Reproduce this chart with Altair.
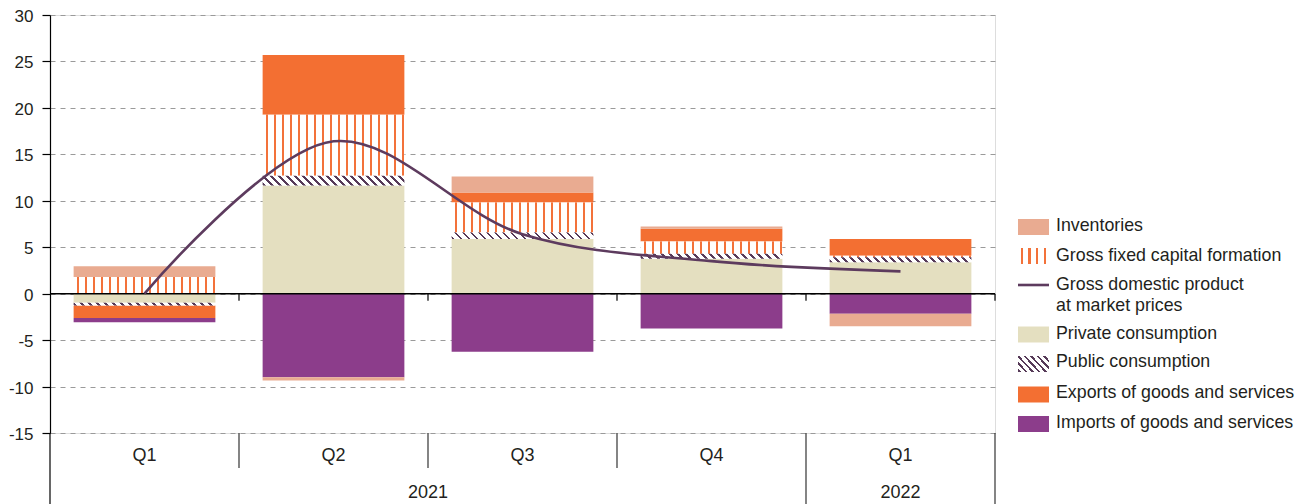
import altair as alt
import numpy as np
import pandas as pd

# ---------------- data ----------------
quarters = ["2021 Q1", "2021 Q2", "2021 Q3", "2021 Q4", "2022 Q1"]
quarter_labels = ["Q1", "Q2", "Q3", "Q4", "Q1"]
years = ["2021", "2022"]

private_consumption = [-0.97, 11.65, 5.88, 3.76, 3.37]
public_consumption = [-0.30, 1.04, 0.71, 0.54, 0.54]
gross_fixed_capital = [1.80, 6.56, 3.23, 1.32, 0.18]
exports = [-1.35, 6.45, 1.08, 1.36, 1.80]
imports = [-0.45, -9.00, -6.24, -3.76, -2.15]
inventories = [1.15, -0.35, 1.72, 0.25, -1.36]
gdp = [0.0, 16.4, 6.4, 3.5, 2.4]

PRIV = "Private consumption"
PUB = "Public consumption"
GFCF = "Gross fixed capital formation"
EXP = "Exports of goods and services"
IMP = "Imports of goods and services"
INV = "Inventories"
components = [PRIV, PUB, GFCF, EXP, IMP, INV]
series = [private_consumption, public_consumption, gross_fixed_capital, exports, imports, inventories]

rows = []
for order, (name, vals) in enumerate(zip(components, series)):
    for q, v in zip(quarters, vals):
        rows.append({"q": q, "comp": name, "value": v, "order": order})
df = pd.DataFrame(rows)
gdp_df = pd.DataFrame({"q": quarters, "gdp": gdp})
qlab_df = pd.DataFrame({"q": quarters, "label": quarter_labels})
one = pd.DataFrame({"k": [0]})

# ---------------- style / layout ----------------
W, H = 945, 418
BAND = W / len(quarters)
BAR_FRAC = 0.75
BAR_W = BAND * BAR_FRAC
Y_MIN, Y_MAX = -15, 30
PX = H / (Y_MAX - Y_MIN)
FONT = "Liberation Sans, Arial, sans-serif"
TXT = "#231f20"

C_PRIV = "#e4dfc0"
C_EXP = "#f36f32"
C_IMP = "#8c3d8b"
C_INV = "#e9ab91"
C_STRIPE = "#f3723a"
C_HATCH = "#563a58"
C_GDP = "#5d3b5e"


def gs(color, off):
    return alt.GradientStop(color=color, offset=round(float(off), 5))


def build_stops(centers, thick, span, color, bg="#ffffff"):
    stops = [gs(bg, 0)]
    last = 0.0
    for c in centers:
        a = max(0.0, (c - thick / 2) / span)
        b = min(1.0, (c + thick / 2) / span)
        if b <= 0 or a >= 1 or a < last:
            continue
        stops += [gs(bg, a), gs(color, a), gs(color, b), gs(bg, b)]
        last = b
    stops.append(gs(bg, 1))
    return stops


def vstripes(width, first, period, thick, color):
    centers = np.arange(first, width, period)
    return alt.LinearGradient(gradient="linear", x1=0, y1=0, x2=1, y2=0,
                              stops=build_stops(centers, thick, width, color))


def hatch(width, height, period, thick, color, phase=2.0):
    # lines x - y = c (top-left to bottom-right), in pixels
    k = height / width
    s = (1 + k) / (1 + k * k)
    centers = np.arange(-height + phase, width + period, period) + height
    return alt.LinearGradient(gradient="linear", x1=0, y1=1,
                              x2=round(s, 6), y2=round(1 - k * s, 6),
                              stops=build_stops(centers, thick, width + height, color))


x_scale = alt.Scale(domain=quarters, paddingInner=0, paddingOuter=0)
y_scale = alt.Scale(domain=[Y_MIN, Y_MAX], nice=False, zero=False)

y_axis = alt.Axis(values=list(range(Y_MIN, Y_MAX + 1, 5)), title=None, grid=True,
                  gridDash=[5, 5], gridColor="#9a9a9a", gridWidth=1,
                  domainColor="#000000", domainWidth=1.2, tickColor="#000000",
                  tickSize=8, tickWidth=1.2, labelFont=FONT, labelFontSize=17,
                  labelColor=TXT, labelPadding=9, labelOffset=1.5,
                  labelExpr="'' + datum.value")


def X(**kw):
    return alt.X("q:N", scale=x_scale, axis=None, **kw)


def Yf(field):
    return alt.Y(field, scale=y_scale, axis=y_axis)


def Yd(value):
    return alt.YDatum(value, scale=y_scale, axis=y_axis)


stacked = alt.Chart(df).transform_stack(
    stack="value", groupby=["q"], as_=["v0", "v1"],
    sort=[alt.SortField("order", order="ascending")])

plain = [PRIV, EXP, IMP, INV]
plain_bars = stacked.transform_filter(
    alt.FieldOneOfPredicate(field="comp", oneOf=plain)
).mark_bar(width=alt.RelativeBandSize(BAR_FRAC)).encode(
    x=X(),
    y=Yf("v0:Q"),
    y2="v1:Q",
    color=alt.Color("comp:N", scale=alt.Scale(domain=plain, range=[C_PRIV, C_EXP, C_IMP, C_INV]),
                    legend=None),
)

gfcf_bars = stacked.transform_filter(alt.datum.comp == GFCF).mark_bar(
    width=alt.RelativeBandSize(BAR_FRAC),
    fill=vstripes(BAR_W, 4.2, 8.0, 2.2, C_STRIPE),
).encode(x=X(), y=Yf("v0:Q"), y2="v1:Q")

hatch_layers = []
for q, v in zip(quarters, public_consumption):
    hpx = max(abs(v) * PX, 1.0)
    hatch_layers.append(
        stacked.transform_filter((alt.datum.comp == PUB) & (alt.datum.q == q)).mark_bar(
            width=alt.RelativeBandSize(BAR_FRAC),
            fill=hatch(BAR_W, hpx, 8.0, 2.6, C_HATCH),
        ).encode(x=X(), y=Yf("v0:Q"), y2="v1:Q")
    )

zero_rule = alt.Chart(one).mark_rule(color="#000000", strokeWidth=1.5).encode(y=Yd(0))

zero_ticks = alt.Chart(pd.DataFrame({"q": quarters[1:]})).mark_rule(
    color="#000000", strokeWidth=1.2).encode(
    x=X(bandPosition=0), y=Yd(0), y2=alt.Y2Datum(-0.75))
zero_tick_end = alt.Chart(pd.DataFrame({"q": quarters[-1:]})).mark_rule(
    color="#000000", strokeWidth=1.2).encode(
    x=X(bandPosition=1), y=Yd(0), y2=alt.Y2Datum(-0.75))

gdp_line = alt.Chart(gdp_df).mark_line(
    color=C_GDP, strokeWidth=2.6, interpolate="catmull-rom").encode(
    x=X(), y=Yf("gdp:Q"))

# bottom category axis drawn with the band scale
short_sep = alt.Chart(pd.DataFrame({"q": quarters[1:4]})).mark_rule(
    color="#333333", strokeWidth=1.2).encode(
    x=X(bandPosition=0), y=Yd(Y_MIN), y2=alt.value(H + 35))
long_sep = alt.Chart(pd.DataFrame({"q": quarters[4:]})).mark_rule(
    color="#333333", strokeWidth=1.2).encode(
    x=X(bandPosition=0), y=Yd(Y_MIN), y2=alt.value(H + 75))
long_sep_end = alt.Chart(pd.DataFrame({"q": quarters[4:]})).mark_rule(
    color="#333333", strokeWidth=1.2).encode(
    x=X(bandPosition=1), y=Yd(Y_MIN), y2=alt.value(H + 75))
axis_ext = alt.Chart(one).mark_rule(color="#000000", strokeWidth=1.2).encode(
    x=alt.value(0), y=alt.value(H), y2=alt.value(H + 75))

q_text = alt.Chart(qlab_df).mark_text(
    font=FONT, fontSize=18, color=TXT, baseline="middle", align="center").encode(
    x=X(), y=alt.value(H + 23), text="label:N")
y2021 = alt.Chart(pd.DataFrame({"q": [quarters[1]], "label": [years[0]]})).mark_text(
    font=FONT, fontSize=18, color=TXT, baseline="middle", align="center").encode(
    x=X(bandPosition=1), y=alt.value(H + 60), text="label:N")
y2022 = alt.Chart(pd.DataFrame({"q": [quarters[4]], "label": [years[1]]})).mark_text(
    font=FONT, fontSize=18, color=TXT, baseline="middle", align="center").encode(
    x=X(), y=alt.value(H + 60), text="label:N")

# ---------------- legend ----------------
LX0, LX1, LTX = W + 23, W + 54, W + 61
SW_W, SW_H = LX1 - LX0, 16
LFS = 17.8


def swatch(fill, yc):
    return alt.Chart(one).mark_rect(fill=fill).encode(
        x=alt.value(LX0), x2=alt.value(LX1),
        y=alt.value(yc - SW_H / 2), y2=alt.value(yc + SW_H / 2))


def ltext(label, yc):
    return alt.Chart(one).mark_text(
        text=label, font=FONT, fontSize=LFS, color=TXT, align="left", baseline="middle").encode(
        x=alt.value(LTX), y=alt.value(yc))


legend_layers = [
    swatch(C_INV, 212), ltext(INV, 211),
    swatch(vstripes(SW_W, 3.6, 7.8, 2.2, C_STRIPE), 241), ltext(GFCF, 241),
    alt.Chart(one).mark_rule(color=C_GDP, strokeWidth=2.6).encode(
        x=alt.value(LX0), x2=alt.value(LX1), y=alt.value(270)),
    ltext("Gross domestic product", 270), ltext("at market prices", 291),
    swatch(C_PRIV, 319.5), ltext(PRIV, 319),
    swatch(hatch(SW_W, 15, 6.5, 2.4, C_HATCH), 349), ltext(PUB, 347),
    swatch(C_EXP, 379.5), ltext(EXP, 378),
    swatch(C_IMP, 409), ltext(IMP, 408),
]

chart = alt.layer(
    plain_bars, gfcf_bars, *hatch_layers, zero_rule, zero_ticks, zero_tick_end, gdp_line,
    short_sep, long_sep, long_sep_end, axis_ext, q_text, y2021, y2022, *legend_layers,
).properties(
    width=W, height=H,
    autosize=alt.AutoSizeParams(type="none"),
    padding={"left": 42, "top": 7, "right": 307, "bottom": 71},
).configure_view(strokeWidth=0, stroke="transparent").configure(background="#ffffff")

chart.save("out.html", embed_options={"renderer": "svg", "actions": False})
